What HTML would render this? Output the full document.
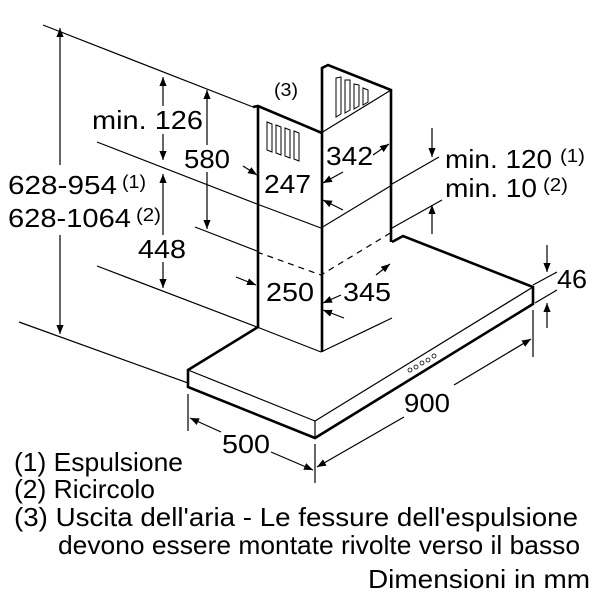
<!DOCTYPE html>
<html><head><meta charset="utf-8"><style>
html,body{margin:0;padding:0;background:#fff}
svg{display:block}
text{font-family:"Liberation Sans",Arial,sans-serif;fill:#000}
</style></head><body>
<svg width="600" height="600" viewBox="0 0 600 600" xmlns="http://www.w3.org/2000/svg">
<defs>
<marker id="a" viewBox="0 0 10 10" refX="10" refY="5" markerWidth="9" markerHeight="9" orient="auto-start-reverse" markerUnits="userSpaceOnUse"><path d="M0,1 L10,5 L0,9 z" fill="#000"/></marker>
</defs>
<g stroke="#000" fill="none" stroke-width="1.2">
<line x1="43" y1="25" x2="253" y2="107"/>
<line x1="97" y1="142" x2="257" y2="204"/>
<line x1="195" y1="227" x2="257" y2="251"/>
<line x1="97" y1="266" x2="257" y2="327"/>
<line x1="19" y1="322" x2="188" y2="383"/>
<line x1="60" y1="28" x2="60" y2="165" marker-start="url(#a)"/>
<line x1="60" y1="235" x2="60" y2="334" marker-end="url(#a)"/>
<line x1="163" y1="77" x2="163" y2="106" marker-start="url(#a)"/>
<line x1="163" y1="134" x2="163" y2="160" marker-end="url(#a)"/>
<line x1="163" y1="174" x2="163" y2="235" marker-start="url(#a)"/>
<line x1="163" y1="262" x2="163" y2="288" marker-end="url(#a)"/>
<line x1="207" y1="90" x2="207" y2="145" marker-start="url(#a)"/>
<line x1="207" y1="172" x2="207" y2="229" marker-end="url(#a)"/>
<line x1="392" y1="184" x2="439" y2="157"/>
<line x1="392" y1="228" x2="442" y2="200"/>
<line x1="432" y1="128" x2="432" y2="157" marker-end="url(#a)"/>
<line x1="432" y1="234" x2="432" y2="205" marker-end="url(#a)"/>
<line x1="533" y1="285" x2="557" y2="272"/>
<line x1="535" y1="303" x2="557" y2="290"/>
<line x1="547" y1="245" x2="547" y2="272" marker-end="url(#a)"/>
<line x1="547" y1="328" x2="547" y2="303" marker-end="url(#a)"/>
<line x1="533" y1="310" x2="533" y2="357"/>
<line x1="315" y1="444" x2="315" y2="483"/>
<line x1="188" y1="394" x2="188" y2="431"/>
<line x1="404" y1="417" x2="317" y2="467" marker-end="url(#a)"/>
<line x1="454" y1="385" x2="531" y2="339" marker-end="url(#a)"/>
<line x1="221" y1="432" x2="190" y2="418" marker-end="url(#a)"/>
<line x1="271" y1="452" x2="313" y2="470" marker-end="url(#a)"/>
<line x1="243" y1="166" x2="257" y2="175" marker-end="url(#a)"/>
<line x1="236" y1="277" x2="256" y2="285" marker-end="url(#a)"/>
<line x1="343" y1="172" x2="323" y2="183" marker-end="url(#a)"/>
<line x1="343" y1="210" x2="323" y2="200" marker-end="url(#a)"/>
<line x1="373" y1="155" x2="389" y2="144" marker-end="url(#a)"/>
<line x1="376" y1="275" x2="390" y2="264" marker-end="url(#a)"/>
<line x1="341" y1="295" x2="323" y2="303" marker-end="url(#a)"/>
<line x1="344" y1="318" x2="323" y2="310" marker-end="url(#a)"/>
<polyline points="257,204 321,228 392,185"/>
<polyline points="257,252 321,275 392,232" stroke-dasharray="6,5"/>
<line x1="321" y1="352" x2="392" y2="318"/>
<line x1="321" y1="133" x2="391" y2="90"/>
<line x1="188" y1="370" x2="315" y2="421"/>
<line x1="315" y1="421" x2="533" y2="287"/>
<line x1="315" y1="421" x2="315" y2="437"/>
<line x1="257" y1="327" x2="321" y2="352"/>
<g stroke-width="1">
<polygon points="267,122 272,124 272,152 267,150"/>
<polygon points="276,125 281,127 281,155 276,153"/>
<polygon points="285,128 290,130 290,158 285,156"/>
<polygon points="294,131 299,133 299,161 294,159"/>
<polygon points="336,78 341,77 341,114 336,117"/>
<polygon points="345,80 350,80 350,110 345,113"/>
<polygon points="354,84 359,85 359,106 354,109"/>
<polygon points="363,88 368,90 368,102 363,105"/>
</g>
<g stroke-width="0.8">
<circle cx="410" cy="370" r="2"/><circle cx="416" cy="367" r="2"/><circle cx="422" cy="363" r="2"/><circle cx="428" cy="360" r="2"/><circle cx="434" cy="356" r="2"/>
</g>
</g>
<g stroke="#000" fill="none" stroke-width="2.6" stroke-linejoin="miter">
<polyline points="253,107 258,106 322,133 322,352"/>
<polyline points="258,106 258,327 188,370 188,387 315,438 533,304 533,287 403,236 392,242"/>
<polyline points="322,133 322,68 328,65 391,90 391,242"/>
</g>
<g font-size="26">
<text x="274" y="96" font-size="18" textLength="24" lengthAdjust="spacingAndGlyphs">(3)</text>
<text x="92" y="129" textLength="111" lengthAdjust="spacingAndGlyphs">min. 126</text>
<text x="184" y="168" textLength="46" lengthAdjust="spacingAndGlyphs">580</text>
<text x="264" y="193" textLength="47" lengthAdjust="spacingAndGlyphs">247</text>
<text x="326" y="165" textLength="47" lengthAdjust="spacingAndGlyphs">342</text>
<text x="8" y="194" textLength="109" lengthAdjust="spacingAndGlyphs">628-954</text>
<text x="122" y="188" font-size="18" textLength="24" lengthAdjust="spacingAndGlyphs">(1)</text>
<text x="8" y="227" textLength="123" lengthAdjust="spacingAndGlyphs">628-1064</text>
<text x="136" y="221" font-size="18" textLength="25" lengthAdjust="spacingAndGlyphs">(2)</text>
<text x="138" y="258" textLength="48" lengthAdjust="spacingAndGlyphs">448</text>
<text x="266" y="301" textLength="48" lengthAdjust="spacingAndGlyphs">250</text>
<text x="343" y="301" textLength="48" lengthAdjust="spacingAndGlyphs">345</text>
<text x="445" y="168" textLength="107" lengthAdjust="spacingAndGlyphs">min. 120</text>
<text x="560" y="162" font-size="18" textLength="25" lengthAdjust="spacingAndGlyphs">(1)</text>
<text x="445" y="197" textLength="92" lengthAdjust="spacingAndGlyphs">min. 10</text>
<text x="543" y="191" font-size="18" textLength="25" lengthAdjust="spacingAndGlyphs">(2)</text>
<text x="557" y="288" textLength="30" lengthAdjust="spacingAndGlyphs">46</text>
<text x="404" y="412" textLength="46" lengthAdjust="spacingAndGlyphs">900</text>
<text x="222" y="453" textLength="48" lengthAdjust="spacingAndGlyphs">500</text>
<text x="14" y="471" textLength="169" lengthAdjust="spacingAndGlyphs">(1) Espulsione</text>
<text x="14" y="498" textLength="141" lengthAdjust="spacingAndGlyphs">(2) Ricircolo</text>
<text x="14" y="526" textLength="564" lengthAdjust="spacingAndGlyphs">(3) Uscita dell'aria - Le fessure dell'espulsione</text>
<text x="58" y="554" textLength="522" lengthAdjust="spacingAndGlyphs">devono essere montate rivolte verso il basso</text>
<text x="368" y="588" textLength="222" lengthAdjust="spacingAndGlyphs">Dimensioni in mm</text>
</g>
</svg>
</body></html>
